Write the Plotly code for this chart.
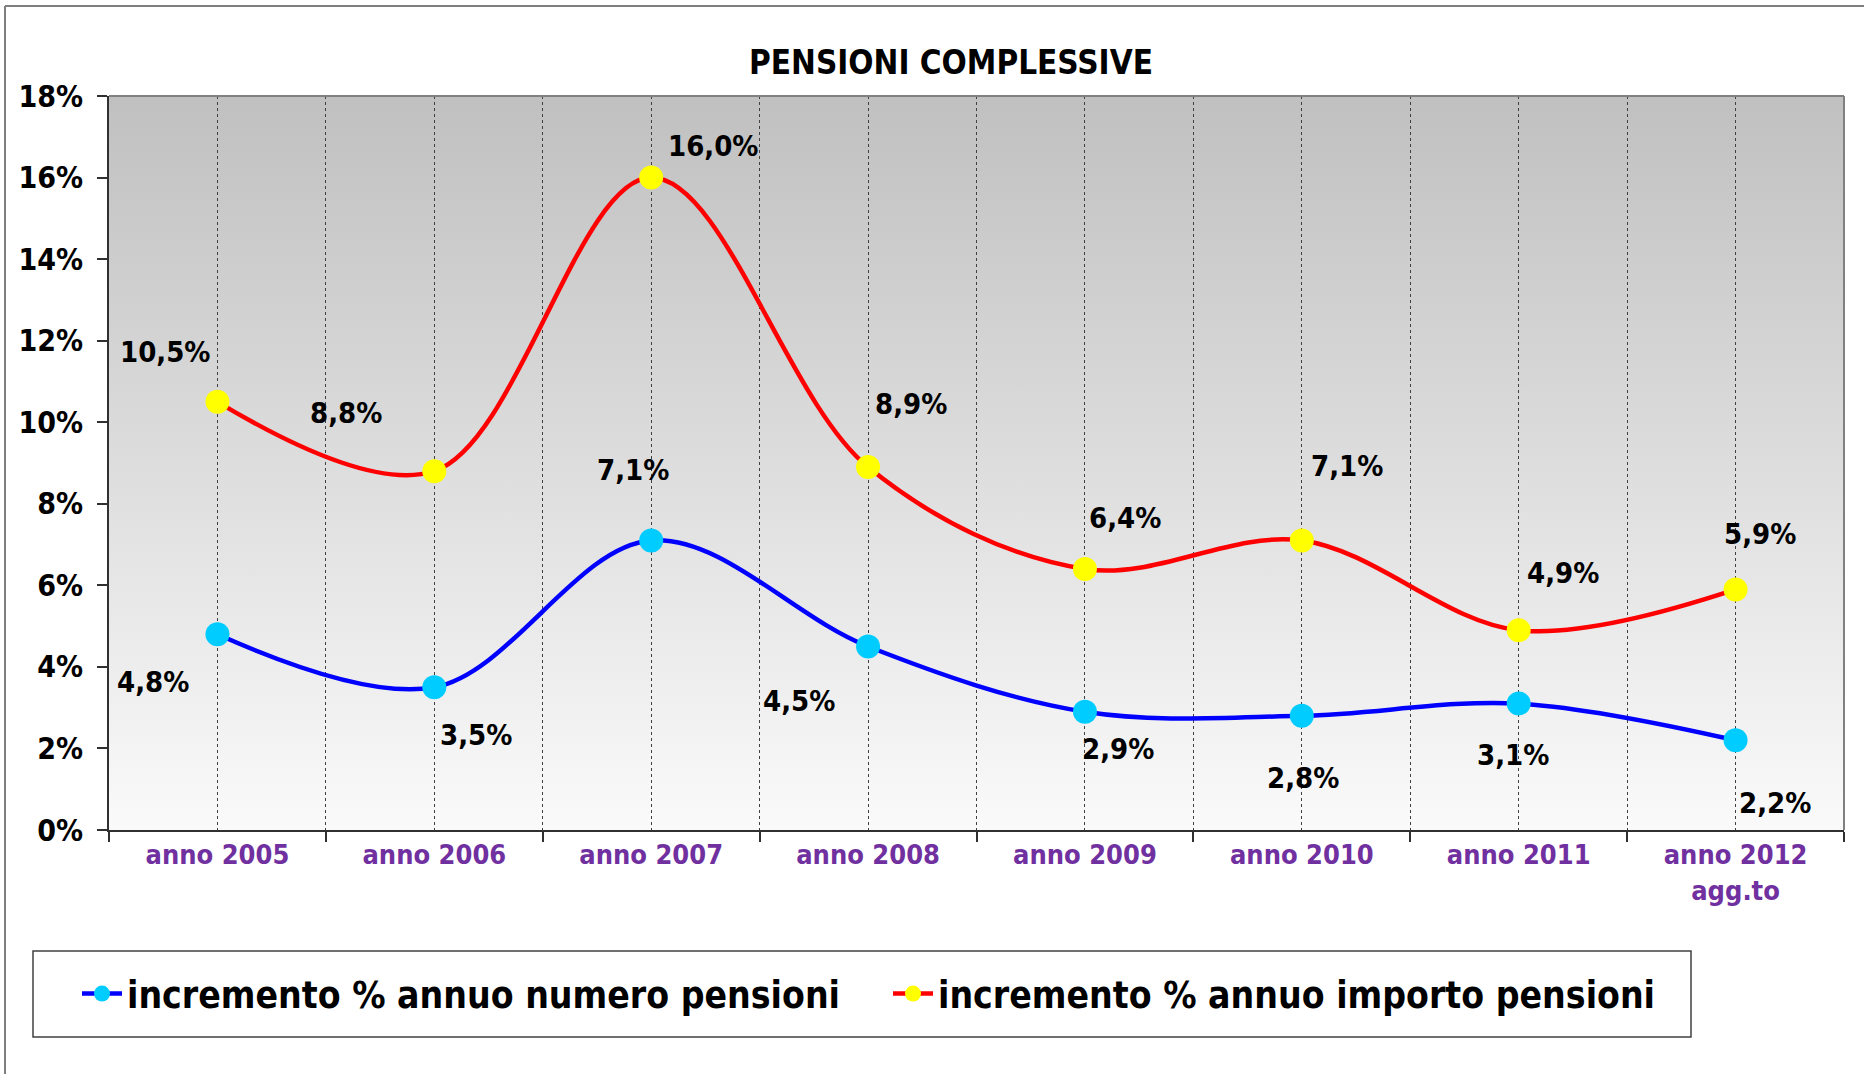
import base64
import plotly.graph_objects as go

# dati
anni = ["anno 2005", "anno 2006", "anno 2007", "anno 2008",
        "anno 2009", "anno 2010", "anno 2011", "anno 2012<br>agg.to"]
numero_pensioni = [4.8, 3.5, 7.1, 4.5, 2.9, 2.8, 3.1, 2.2]
importo_pensioni = [10.5, 8.8, 16.0, 8.9, 6.4, 7.1, 4.9, 5.9]
y_ticks = [0, 2, 4, 6, 8, 10, 12, 14, 16, 18]

# spostamento etichette (px) rispetto al punto
shift_importo = [(-52, 50), (-88, 58), (62, 32), (43, 63), (40, 51), (45, 74), (44, 57), (24, 55)]
shift_numero = [(-64, -48), (42, -48), (-18, 70), (-69, -54), (33, -37), (1, -62), (-6, -51), (39, -63)]

FONT = "DejaVu Sans Condensed, DejaVu Sans, sans-serif"
W, H = 1864, 1074
L, R, T, B = 109, 20, 96, 244


def px_x(p):
    return (p - L) / (W - L - R)


def px_y(p):
    return (H - B - p) / (H - T - B)


def fmt(v):
    return f"{v:.1f}".replace(".", ",") + "%"


xs = list(range(len(anni)))

fig = go.Figure()
fig.add_trace(go.Scatter(
    x=xs, y=numero_pensioni, mode="lines+markers",
    name="incremento % annuo numero pensioni",
    line=dict(color="#0000FF", width=4.5, shape="spline", smoothing=1),
    marker=dict(color="#00CCFF", size=24),
))
fig.add_trace(go.Scatter(
    x=xs, y=importo_pensioni, mode="lines+markers",
    name="incremento % annuo importo pensioni",
    line=dict(color="#FF0000", width=4.5, shape="spline", smoothing=1),
    marker=dict(color="#FFFF00", size=24),
))

annotations = []
for serie, shifts in ((importo_pensioni, shift_importo), (numero_pensioni, shift_numero)):
    for i, v in enumerate(serie):
        annotations.append(dict(
            x=xs[i], y=v, xref="x", yref="y", text=fmt(v), showarrow=False,
            xshift=shifts[i][0], yshift=shifts[i][1],
            font=dict(family=FONT, size=29, color="black", weight="bold"),
        ))

# sfondo a gradiente
svg = ('<svg xmlns="http://www.w3.org/2000/svg" width="10" height="100" preserveAspectRatio="none">'
       '<defs><linearGradient id="g" x1="0" y1="0" x2="0" y2="1">'
       '<stop offset="0" stop-color="#C0C0C0"/><stop offset="1" stop-color="#FAFAFA"/>'
       '</linearGradient></defs><rect width="10" height="100" fill="url(#g)"/></svg>')
bg = "data:image/svg+xml;base64," + base64.b64encode(svg.encode()).decode()

shapes = [
    # bordo superiore e destro area grafico
    dict(type="line", xref="paper", yref="paper", x0=0, x1=1, y0=1, y1=1,
         line=dict(color="#808080", width=2)),
    dict(type="line", xref="paper", yref="paper", x0=1, x1=1, y0=0, y1=1,
         line=dict(color="#808080", width=2)),
    # cornice esterna
    dict(type="line", xref="paper", yref="paper", x0=px_x(5), x1=px_x(5), y0=px_y(6), y1=px_y(1074),
         line=dict(color="#7F7F7F", width=2)),
    dict(type="line", xref="paper", yref="paper", x0=px_x(5), x1=px_x(1864), y0=px_y(6), y1=px_y(6),
         line=dict(color="#7F7F7F", width=2)),
    # riquadro legenda
    dict(type="rect", xref="paper", yref="paper", x0=px_x(33), x1=px_x(1691), y0=px_y(1037), y1=px_y(951),
         line=dict(color="#404040", width=1.5)),
]

fig.update_layout(
    width=W, height=H, autosize=False,
    margin=dict(l=L, r=R, t=T, b=B),
    paper_bgcolor="white", plot_bgcolor="rgba(0,0,0,0)",
    title=dict(text="PENSIONI COMPLESSIVE", x=951 / W, y=1 - 62 / H,
               xanchor="center", yanchor="middle",
               font=dict(family=FONT, size=33, color="black", weight="bold")),
    images=[dict(source=bg, xref="paper", yref="paper", x=0, y=1, sizex=1, sizey=1,
                 sizing="stretch", layer="below")],
    shapes=shapes,
    annotations=annotations,
    showlegend=True,
    legend=dict(orientation="h", x=px_x(77), xanchor="left", y=px_y(994), yanchor="middle",
                font=dict(family=FONT, size=37, color="black", weight="bold"),
                bgcolor="rgba(0,0,0,0)", entrywidth=756, itemwidth=40),
)

fig.update_xaxes(
    range=[-0.5, 7.5], tickmode="array", tickvals=xs, ticktext=anni, ticks="",
    showline=True, linecolor="#303030", linewidth=2,
    showgrid=True, gridcolor="#404040", gridwidth=1, griddash="dot",
    zeroline=False,
    tickfont=dict(family=FONT, size=27, color="#7030A0", weight="bold"),
    minor=dict(tickmode="linear", tick0=0.5, dtick=1, ticks="outside", ticklen=10,
               tickcolor="#303030", tickwidth=1.5,
               showgrid=True, gridcolor="#404040", gridwidth=1, griddash="dot"),
)
fig.update_yaxes(
    range=[0, 18], tickmode="array", tickvals=y_ticks,
    ticktext=[f"{v}%" for v in y_ticks],
    ticks="outside", ticklen=10, tickcolor="#303030", tickwidth=1.5,
    ticklabelstandoff=8,
    showline=True, linecolor="#303030", linewidth=2,
    showgrid=False, zeroline=False,
    tickfont=dict(family=FONT, size=30, color="black", weight="bold"),
)

fig.write_html("out.html", config={"displayModeBar": False},
               post_script="document.body.style.margin='0';")
